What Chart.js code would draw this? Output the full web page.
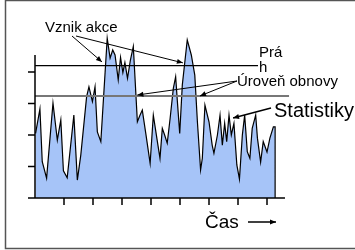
<!DOCTYPE html>
<html>
<head>
<meta charset="utf-8">
<script src="https://cdn.jsdelivr.net/npm/chart.js@4/dist/chart.umd.min.js"></script>
<style>
	html, body { margin: 0; padding: 0; background: #fff; }
</style>
</head>
<body>
<canvas id="statChart" width="355" height="250"></canvas>
<script>
// time positions (1 unit = one x tick) and measured level of the statistics
const timeX = [0.02, 0.17, 0.25, 0.40, 0.62, 0.77, 0.89, 0.98, 1.11, 1.34, 1.46, 1.58, 1.78, 1.86, 1.98, 2.07,
	2.15, 2.27, 2.49, 2.59, 2.68, 2.76, 2.87, 2.95, 3.03, 3.10, 3.19, 3.29, 3.39, 3.53, 3.62, 3.70,
	3.82, 3.97, 4.08, 4.22, 4.31, 4.39, 4.47, 4.56, 4.66, 4.77, 4.85, 4.91, 4.99, 5.08, 5.25, 5.39,
	5.51, 5.60, 5.71, 5.77, 5.86, 6.00, 6.11, 6.17, 6.29, 6.38, 6.46, 6.54, 6.61, 6.69, 6.77, 6.86,
	6.96, 7.05, 7.15, 7.23, 7.32, 7.41, 7.49, 7.61, 7.67, 7.78, 7.87, 8.00, 8.10, 8.22, 8.28, 8.28];
const level = [2.05, 2.83, 1.15, 0.63, 3.01, 1.84, 2.48, 0.86, 0.64, 2.63, 0.57, 1.37, 3.22, 3.53, 3.06, 3.53,
	2.10, 1.79, 5.07, 4.44, 4.70, 4.54, 3.75, 4.46, 3.98, 4.30, 3.80, 4.38, 4.81, 2.42, 2.63, 2.79,
	2.05, 1.10, 2.63, 1.79, 1.26, 2.21, 2.00, 1.74, 2.53, 3.48, 3.85, 3.06, 2.05, 3.59, 5.02, 4.54,
	3.90, 2.42, 0.89, 1.26, 2.95, 2.42, 1.68, 1.42, 2.00, 2.63, 1.68, 2.37, 1.79, 2.63, 2.00, 2.37,
	1.05, 0.60, 2.00, 2.63, 1.47, 1.26, 2.21, 2.63, 1.90, 1.14, 1.79, 1.46, 1.90, 2.26, 2.26, 0];

const yTicks = [0, 1, 2, 3, 4];
const xTicks = [1, 2, 3, 4, 5, 6, 7, 8];
const yAxisTop = 4.54;
const xAxisEnd = 8.62;

const thresholdLevel = 4.2; // Práh
const thresholdEnd = 7.69;
const renewalLevel = 3.24; // Úroveň obnovy
const renewalEnd = 8.76;

// arrow targets in data units
const actionPoints = [[2.31, 4.32], [5.10, 4.29]];
const renewalPoints = [[3.53, 3.27], [5.69, 3.24]];
const statPoint = [6.83, 2.54];

function arrow(ctx, x1, y1, x2, y2) {
	const a = Math.atan2(y2 - y1, x2 - x1);
	const len = 6, w = 2.5;
	ctx.beginPath();
	ctx.moveTo(x1, y1);
	ctx.lineTo(x2, y2);
	ctx.stroke();
	ctx.beginPath();
	ctx.moveTo(x2, y2);
	ctx.lineTo(x2 - len * Math.cos(a) + w * Math.sin(a), y2 - len * Math.sin(a) - w * Math.cos(a));
	ctx.lineTo(x2 - len * Math.cos(a) - w * Math.sin(a), y2 - len * Math.sin(a) + w * Math.cos(a));
	ctx.closePath();
	ctx.fill();
}

const decor = {
	id: "decor",
	afterDatasetsDraw(chart) {
		const ctx = chart.ctx;
		const xs = chart.scales.x, ys = chart.scales.y;
		const px = (v) => xs.getPixelForValue(v);
		const py = (v) => ys.getPixelForValue(v);
		ctx.save();

		// outer frame
		ctx.strokeStyle = "#555";
		ctx.lineWidth = 1.5;
		ctx.strokeRect(5.5, 0.5, 400, 248);

		// threshold + renewal lines
		ctx.strokeStyle = "#000";
		ctx.lineWidth = 1.2;
		ctx.beginPath();
		ctx.moveTo(px(0), py(thresholdLevel));
		ctx.lineTo(px(thresholdEnd), py(thresholdLevel));
		ctx.stroke();
		ctx.strokeStyle = "#777";
		ctx.lineWidth = 2;
		ctx.beginPath();
		ctx.moveTo(px(0), py(renewalLevel));
		ctx.lineTo(px(renewalEnd), py(renewalLevel));
		ctx.stroke();

		// axes
		ctx.strokeStyle = "#000";
		ctx.lineWidth = 1.5;
		ctx.beginPath();
		ctx.moveTo(px(0), py(yAxisTop));
		ctx.lineTo(px(0), py(0));
		ctx.lineTo(px(xAxisEnd), py(0));
		yTicks.forEach((t) => {
			ctx.moveTo(px(0) - 7, py(t));
			ctx.lineTo(px(0), py(t));
		});
		xTicks.forEach((t) => {
			ctx.moveTo(px(t), py(0));
			ctx.lineTo(px(t), py(0) + 7);
		});
		ctx.stroke();

		// labels and arrows
		ctx.fillStyle = "#000";
		ctx.lineWidth = 1;
		ctx.font = "15px 'Liberation Sans', Arial, sans-serif";
		ctx.textBaseline = "alphabetic";
		ctx.fillText("Vznik akce", 45, 32);
		arrow(ctx, 72, 36, px(actionPoints[0][0]), py(actionPoints[0][1]));
		arrow(ctx, 76, 36, px(actionPoints[1][0]), py(actionPoints[1][1]));
		ctx.fillText("Prá", 259, 57);
		ctx.fillText("h", 259, 72);
		ctx.fillText("Úroveň obnovy", 237, 86);
		renewalPoints.forEach((p) => arrow(ctx, 237, 81, px(p[0]), py(p[1])));
		ctx.font = "20px 'Liberation Sans', Arial, sans-serif";
		ctx.fillText("Statistiky", 274, 117);
		ctx.lineWidth = 1.5;
		arrow(ctx, 271, 108, px(statPoint[0]), py(statPoint[1]));
		ctx.font = "19px 'Liberation Sans', Arial, sans-serif";
		ctx.fillText("Čas", 205, 228);
		arrow(ctx, 248, 222, 276, 222);
		ctx.restore();
	},
};

const points = timeX.map((x, i) => ({ x: x, y: level[i] }));

new Chart(document.getElementById("statChart"), {
	type: "line",
	data: {
		datasets: [
			{
				data: points,
				borderColor: "#000",
				borderWidth: 1.2,
				backgroundColor: "#a6c4f8",
				fill: "origin",
				pointRadius: 0,
				tension: 0,
				clip: false,
			},
		],
	},
	options: {
		responsive: false,
		animation: false,
		layout: { padding: { left: 35, right: 59, top: 24.75, bottom: 52 } },
		plugins: { legend: { display: false }, tooltip: { enabled: false } },
		scales: {
			x: { type: "linear", min: 0, max: 9, display: false },
			y: { min: 0, max: 5.5, display: false },
		},
	},
	plugins: [decor],
});
</script>
</body>
</html>
